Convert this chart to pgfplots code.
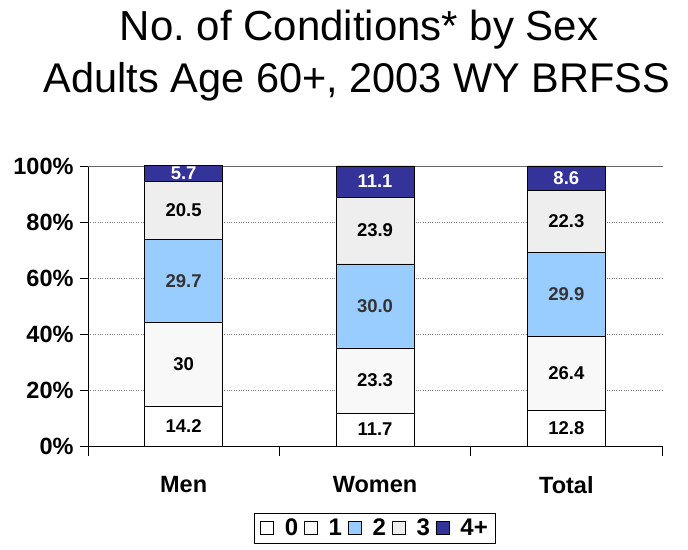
\documentclass[border=0pt]{standalone}
\usepackage{pgfplots}
\pgfplotsset{compat=1.18}
\usepackage{pgfplotstable}
\usepackage{fontspec}
\setmainfont{Liberation Sans}
\definecolor{cTwo}{HTML}{99CCFF}
\definecolor{cThree}{HTML}{EEEEEE}
\definecolor{cFour}{HTML}{333399}
\definecolor{cOne}{HTML}{F8F8F8}
\pgfplotstableread{
x v0 v1 v2 v3 v4 l0 l1 l2 l3 l4
0 14.2 30 29.7 20.5 5.7 14.2 30 29.7 20.5 5.7
1 11.7 23.3 30.0 23.9 11.1 11.7 23.3 30.0 23.9 11.1
2 12.8 26.4 29.9 22.3 8.6 12.8 26.4 29.9 22.3 8.6
}\datatable
\begin{document}
\begin{tikzpicture}[x=1bp,y=1bp]
\useasboundingbox (0,0) rectangle (688,550);
\node[anchor=base,font=\fontsize{42bp}{48bp}\selectfont] at (359,509) {No.\ of Conditions* by Sex};
\node[anchor=base,font=\fontsize{41.5bp}{48bp}\selectfont] at (357,457) {Adults Age 60+, 2003 WY BRFSS};
\begin{axis}[
  at={(88bp,104bp)}, anchor=south west,
  scale only axis, width=574bp, height=280bp,
  ybar stacked, bar width=78bp,
  xmin=-0.5, xmax=2.5, ymin=0, ymax=100,
  clip=false,
  axis lines*=left,
  axis line style={black, line width=0.8pt},
  xtick={0,1,2}, xticklabels={Men,Women,Total},
  x tick style={draw=none},
  extra x ticks={-0.5,0.5,1.5,2.5}, extra x tick labels={},
  extra x tick style={major tick length=10bp, tick align=outside, x tick style={draw=black, line width=0.8pt}, grid=none},
  xticklabel style={font=\bfseries\fontsize{23.5bp}{23.5bp}\selectfont, yshift=-19bp},
  ytick={0,20,40,60,80,100}, yticklabels={0\%,20\%,40\%,60\%,80\%,100\%},
  yticklabel style={font=\bfseries\fontsize{23.5bp}{23.5bp}\selectfont, xshift=-3bp},
  y tick style={black, line width=0.8pt},
  tick align=outside, major tick length=8bp,
  ymajorgrids, grid style={gray, dotted, line width=0.8pt},
  legend style={at={(0.5,-0.294)}, anchor=center, legend columns=5, draw=black, line width=0.8pt,
    font=\bfseries\fontsize{24bp}{24bp}\selectfont, inner xsep=6bp, inner ysep=4bp,
    /tikz/every even column/.append style={column sep=4bp},
    /tikz/every odd column/.append style={column sep=9bp}},
  legend image code/.code={\draw[#1,draw=black,line width=0.6pt] (0bp,-6bp) rectangle (13bp,7bp);},
  every axis plot/.append style={draw=black, line width=0.8pt},
]
\addplot[fill=white] table[x=x,y=v0] {\datatable};
\addplot[fill=cOne] table[x=x,y=v1] {\datatable};
\addplot[fill=cTwo] table[x=x,y=v2] {\datatable};
\addplot[fill=cThree] table[x=x,y=v3] {\datatable};
\addplot[fill=cFour] table[x=x,y=v4] {\datatable};
\legend{0,1,2,3,4+}
\draw[gray!80!black, line width=0.8pt] (axis cs:-0.5,100) -- (axis cs:2.5,100);
\end{axis}
\begin{axis}[
  at={(88bp,104bp)}, anchor=south west,
  scale only axis, width=574bp, height=280bp,
  xmin=-0.5, xmax=2.5, ymin=0, ymax=100,
  hide axis, clip=false,
  nodes near coords, point meta=explicit symbolic,
  every node near coord/.append style={anchor=center, font=\bfseries\fontsize{18.5bp}{18.5bp}\selectfont},
]
\addplot[only marks, mark=none, nodes near coords style={text=black}] table[x=x, y expr=\thisrow{v0}/2, meta=l0] {\datatable};
\addplot[only marks, mark=none, nodes near coords style={text=black}] table[x=x, y expr=\thisrow{v0}+\thisrow{v1}/2, meta=l1] {\datatable};
\addplot[only marks, mark=none, nodes near coords style={text=black!80}] table[x=x, y expr=\thisrow{v0}+\thisrow{v1}+\thisrow{v2}/2, meta=l2] {\datatable};
\addplot[only marks, mark=none, nodes near coords style={text=black}] table[x=x, y expr=\thisrow{v0}+\thisrow{v1}+\thisrow{v2}+\thisrow{v3}/2, meta=l3] {\datatable};
\addplot[only marks, mark=none, nodes near coords style={text=white}] table[x=x, y expr=\thisrow{v0}+\thisrow{v1}+\thisrow{v2}+\thisrow{v3}+\thisrow{v4}/2, meta=l4] {\datatable};
\end{axis}
\end{tikzpicture}
\end{document}
